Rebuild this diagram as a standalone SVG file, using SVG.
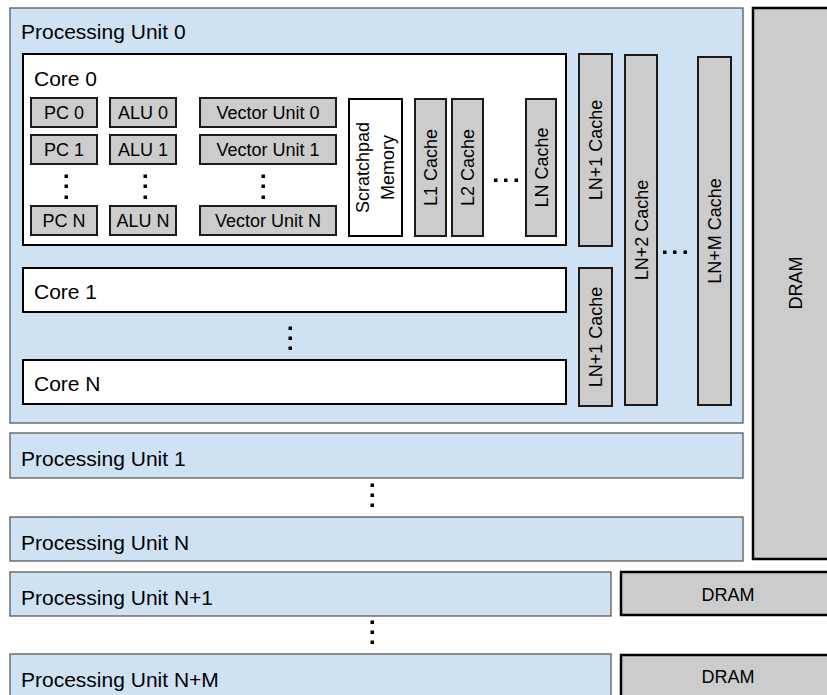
<svg xmlns="http://www.w3.org/2000/svg" width="827" height="695" viewBox="0 0 827 695">
<style>
text{font-family:"Liberation Sans",Arial,sans-serif;fill:#000}
.pu{fill:#cfe2f3;stroke:#595959;stroke-width:1.3}
.core{fill:#fff;stroke:#000;stroke-width:2}
.g{fill:#cccccc;stroke:#1a1a1a;stroke-width:2}
.dram{fill:#cccccc;stroke:#000;stroke-width:2.5}
.big{font-size:21px}
.sm{font-size:18px;text-anchor:middle}
.dot{fill:#000}
</style>
<rect width="827" height="695" fill="#fff"/>

<g id="pu0">
<rect class="pu" x="10" y="8" width="733" height="415"/>
<text class="big" x="21" y="39">Processing Unit 0</text>
</g>

<g id="core0">
<rect class="core" x="23" y="54" width="543" height="191"/>
<text class="big" x="34" y="86">Core 0</text>
</g>
<g id="pc0"><rect class="g" x="31" y="98" width="66" height="29"/><text class="sm" x="64" y="119">PC 0</text></g>
<g id="pc1"><rect class="g" x="31" y="135" width="66" height="29"/><text class="sm" x="64" y="156">PC 1</text></g>
<g id="pcn"><rect class="g" x="31" y="206" width="66" height="29"/><text class="sm" x="64" y="227">PC N</text></g>
<g id="alu0"><rect class="g" x="110" y="98" width="66" height="29"/><text class="sm" x="143" y="119">ALU 0</text></g>
<g id="alu1"><rect class="g" x="110" y="135" width="66" height="29"/><text class="sm" x="143" y="156">ALU 1</text></g>
<g id="alun"><rect class="g" x="110" y="206" width="66" height="29"/><text class="sm" x="143" y="227">ALU N</text></g>
<g id="vu0"><rect class="g" x="200" y="98" width="136" height="29"/><text class="sm" x="268" y="119">Vector Unit 0</text></g>
<g id="vu1"><rect class="g" x="200" y="135" width="136" height="29"/><text class="sm" x="268" y="156">Vector Unit 1</text></g>
<g id="vun"><rect class="g" x="200" y="206" width="136" height="29"/><text class="sm" x="268" y="227">Vector Unit N</text></g>

<g id="scratchpad">
<rect class="core" x="349" y="99" width="53" height="137"/>
<text class="sm" transform="translate(375.5,167.5) rotate(-90)"><tspan x="0" y="-7">Scratchpad</tspan><tspan x="0" y="18">Memory</tspan></text>
</g>
<g id="l1"><rect class="g" x="415" y="99" width="31" height="137"/><text class="sm" transform="translate(437,167.5) rotate(-90)">L1 Cache</text></g>
<g id="l2"><rect class="g" x="452" y="99" width="31" height="137"/><text class="sm" transform="translate(474,167.5) rotate(-90)">L2 Cache</text></g>
<g id="ln"><rect class="g" x="526" y="99" width="30" height="137"/><text class="sm" transform="translate(547.5,167.5) rotate(-90)">LN Cache</text></g>

<g id="ln1a"><rect class="g" x="579" y="54" width="33" height="192"/><text class="sm" transform="translate(602,150) rotate(-90)">LN+1 Cache</text></g>
<g id="ln2"><rect class="g" x="625" y="55" width="32" height="350"/><text class="sm" transform="translate(647.5,230) rotate(-90)">LN+2 Cache</text></g>
<g id="lnm"><rect class="g" x="698" y="57" width="33" height="348"/><text class="sm" transform="translate(721,231) rotate(-90)">LN+M Cache</text></g>
<g id="ln1b"><rect class="g" x="579" y="268" width="33" height="138"/><text class="sm" transform="translate(602,337) rotate(-90)">LN+1 Cache</text></g>

<g id="core1"><rect class="core" x="23" y="268" width="543" height="44"/><text class="big" x="34" y="299">Core 1</text></g>
<g id="coren"><rect class="core" x="23" y="360" width="543" height="44"/><text class="big" x="34" y="391">Core N</text></g>

<g id="dram0">
<rect class="dram" x="753" y="8" width="90" height="551"/>
<text class="sm" transform="translate(795,283) rotate(-90)" y="6.5">DRAM</text>
</g>

<g id="pu1"><rect class="pu" x="10" y="433" width="733" height="45"/><text class="big" x="21" y="466">Processing Unit 1</text></g>
<g id="pun"><rect class="pu" x="10" y="517" width="733" height="44"/><text class="big" x="21" y="550">Processing Unit N</text></g>
<g id="pun1"><rect class="pu" x="10" y="572" width="601" height="44"/><text class="big" x="21" y="605">Processing Unit N+1</text></g>
<g id="dram1"><rect class="dram" x="621" y="572" width="220" height="43"/><text class="sm" x="728" y="601">DRAM</text></g>
<g id="punm"><rect class="pu" x="10" y="654" width="601" height="50"/><text class="big" x="21" y="687">Processing Unit N+M</text></g>
<g id="dram2"><rect class="dram" x="621" y="655" width="220" height="50"/><text class="sm" x="728" y="683">DRAM</text></g>

<g id="connectors">
<g class="dot">
<rect x="64.5" y="174.5" width="3.5" height="3.5"/><rect x="64.5" y="184.5" width="3.5" height="3.5"/><rect x="64.5" y="195.5" width="3.5" height="3.5"/>
<rect x="143.5" y="174.5" width="3.5" height="3.5"/><rect x="143.5" y="184.5" width="3.5" height="3.5"/><rect x="143.5" y="195.5" width="3.5" height="3.5"/>
<rect x="261.5" y="174.5" width="3.5" height="3.5"/><rect x="261.5" y="184.5" width="3.5" height="3.5"/><rect x="261.5" y="195.5" width="3.5" height="3.5"/>
<rect x="494" y="178.5" width="3.5" height="3.5"/><rect x="504" y="178.5" width="3.5" height="3.5"/><rect x="514.5" y="178.5" width="3.5" height="3.5"/>
<rect x="663" y="250.5" width="3.5" height="3.5"/><rect x="673" y="250.5" width="3.5" height="3.5"/><rect x="683.5" y="250.5" width="3.5" height="3.5"/>
<rect x="288.5" y="326.5" width="3.5" height="3.5"/><rect x="288.5" y="336.5" width="3.5" height="3.5"/><rect x="288.5" y="346.5" width="3.5" height="3.5"/>
<rect x="370.5" y="483.5" width="3.5" height="3.5"/><rect x="370.5" y="493.5" width="3.5" height="3.5"/><rect x="370.5" y="503.5" width="3.5" height="3.5"/>
<rect x="370.5" y="620.5" width="3.5" height="3.5"/><rect x="370.5" y="630.5" width="3.5" height="3.5"/><rect x="370.5" y="640.5" width="3.5" height="3.5"/>
</g>
</g>
</svg>
